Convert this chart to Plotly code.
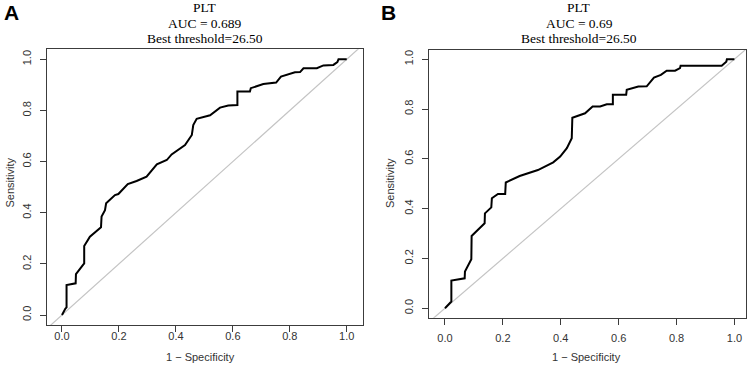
import plotly.graph_objects as go

# ---- data (1 - specificity, sensitivity) ----
fpr_a = [0, 0.005, 0.012, 0.016, 0.016, 0.048, 0.049, 0.078, 0.078, 0.098, 0.137, 0.139, 0.151,
         0.155, 0.186, 0.198, 0.231, 0.262, 0.297, 0.333, 0.368, 0.385, 0.432, 0.456, 0.461,
         0.473, 0.52, 0.555, 0.584, 0.616, 0.616, 0.66, 0.663, 0.707, 0.752, 0.769, 0.818,
         0.836, 0.848, 0.895, 0.918, 0.953, 0.967, 0.971, 1.0]
tpr_a = [0, 0.012, 0.025, 0.03, 0.117, 0.124, 0.16, 0.202, 0.27, 0.306, 0.343, 0.385, 0.41,
         0.437, 0.469, 0.473, 0.512, 0.524, 0.541, 0.589, 0.606, 0.628, 0.665, 0.704, 0.743,
         0.767, 0.781, 0.811, 0.819, 0.821, 0.874, 0.874, 0.887, 0.903, 0.909, 0.932, 0.949,
         0.95, 0.965, 0.965, 0.976, 0.978, 0.989, 1.0, 1.0]

fpr_b = [0, 0.022, 0.022, 0.068, 0.069, 0.091, 0.092, 0.137, 0.138, 0.16, 0.162, 0.183, 0.208,
         0.21, 0.258, 0.321, 0.374, 0.398, 0.421, 0.438, 0.44, 0.484, 0.51, 0.536, 0.559,
         0.58, 0.58, 0.626, 0.628, 0.668, 0.697, 0.722, 0.746, 0.766, 0.795, 0.812, 0.814,
         0.956, 0.972, 0.974, 1.0]
tpr_b = [0, 0.027, 0.111, 0.12, 0.147, 0.197, 0.29, 0.341, 0.381, 0.405, 0.442, 0.459, 0.459,
         0.505, 0.531, 0.555, 0.586, 0.609, 0.643, 0.683, 0.765, 0.783, 0.81, 0.81, 0.819,
         0.819, 0.857, 0.857, 0.877, 0.89, 0.891, 0.926, 0.937, 0.954, 0.954, 0.964, 0.974,
         0.974, 0.99, 1.0, 1.0]

ref_line = [-0.2, 1.2]
tick_vals = [0, 0.2, 0.4, 0.6, 0.8, 1.0]
tick_text = ["0.0", "0.2", "0.4", "0.6", "0.8", "1.0"]

panels = ["A", "B"]
titles = ["PLT", "PLT"]
aucs = ["AUC = 0.689", "AUC = 0.69"]
thresholds = ["Best threshold=26.50", "Best threshold=26.50"]

W, H = 754, 374
fig = go.Figure()

GRAY = "#3c3c3c"
SANS = "Liberation Sans, Arial, sans-serif"
SERIF = "Liberation Serif, Times New Roman, serif"

for i, (fx, ty) in enumerate([(fpr_a, tpr_a), (fpr_b, tpr_b)]):
    xa = "x" if i == 0 else "x2"
    ya = "y" if i == 0 else "y2"
    fig.add_trace(go.Scatter(x=ref_line, y=ref_line, mode="lines",
                             line=dict(color="#c4c4c4", width=1.2),
                             xaxis=xa, yaxis=ya, showlegend=False, hoverinfo="skip"))
    fig.add_trace(go.Scatter(x=fx, y=ty, mode="lines",
                             line=dict(color="black", width=2),
                             xaxis=xa, yaxis=ya, showlegend=False))

# plot boxes in pixels
boxes = [(46.7, 362.7, 49.3, 325.0), (428.7, 745.7, 50.0, 317.7)]
xranges = [[-0.0537, 1.056], [-0.0563, 1.039]]
yranges = [[-0.039, 1.039], [-0.038, 1.037]]

axis_common = dict(showgrid=False, zeroline=False, showline=True, mirror=True,
                   linecolor=GRAY, linewidth=1, ticks="outside", ticklen=6,
                   tickcolor=GRAY, tickwidth=1, tickvals=tick_vals, ticktext=tick_text,
                   tickfont=dict(family=SANS, size=11, color="#333333"))

layout_axes = {}
for i, (l, r, t, b) in enumerate(boxes):
    sfx = "" if i == 0 else "2"
    layout_axes["xaxis" + sfx] = dict(axis_common, domain=[l / W, r / W], range=xranges[i],
                                      anchor="y" + sfx, ticklabelstandoff=-5 if i == 0 else 4)
    layout_axes["yaxis" + sfx] = dict(axis_common, domain=[1 - b / H, 1 - t / H], range=yranges[i],
                                      anchor="x" + sfx, tickangle=-90, ticklabelstandoff=4)

annotations = []
title_x = [205, 579]
ylab_x = [9.5, 390]
xlab_x = [(46.7 + 362.7) / 2 - 4, 587 - 1]
panel_x = [2, 379]
for i in range(2):
    for txt, yy in [(titles[i], 7.5), (aucs[i], 23.0), (thresholds[i], 38.8)]:
        annotations.append(dict(text=txt, x=title_x[i] / W, y=1 - yy / H, xref="paper", yref="paper",
                                xanchor="center", yanchor="middle", showarrow=False,
                                font=dict(family=SERIF, size=13.5, color="black")))
    annotations.append(dict(text=panels[i], x=panel_x[i] / W, y=1 - 12.5 / H, xref="paper", yref="paper",
                            xanchor="left", yanchor="middle", showarrow=False,
                            font=dict(family=SANS, size=21, color="black", weight="bold")))
    annotations.append(dict(text="Sensitivity", x=ylab_x[i] / W, y=1 - 183 / H, xref="paper", yref="paper",
                            xanchor="center", yanchor="middle", textangle=-90, showarrow=False,
                            font=dict(family=SANS, size=11, color="#333333")))
    annotations.append(dict(text="1 \u2212 Specificity", x=xlab_x[i] / W, y=1 - 357 / H, xref="paper", yref="paper",
                            xanchor="center", yanchor="middle", showarrow=False,
                            font=dict(family=SANS, size=11, color="#333333")))

fig.update_layout(width=W, height=H, margin=dict(l=0, r=0, t=0, b=0),
                  paper_bgcolor="white", plot_bgcolor="white",
                  annotations=annotations, **layout_axes)

fig.write_html("out.html", config={"displayModeBar": False},
               post_script="document.body.style.margin='0px';document.body.style.overflow='hidden';")
